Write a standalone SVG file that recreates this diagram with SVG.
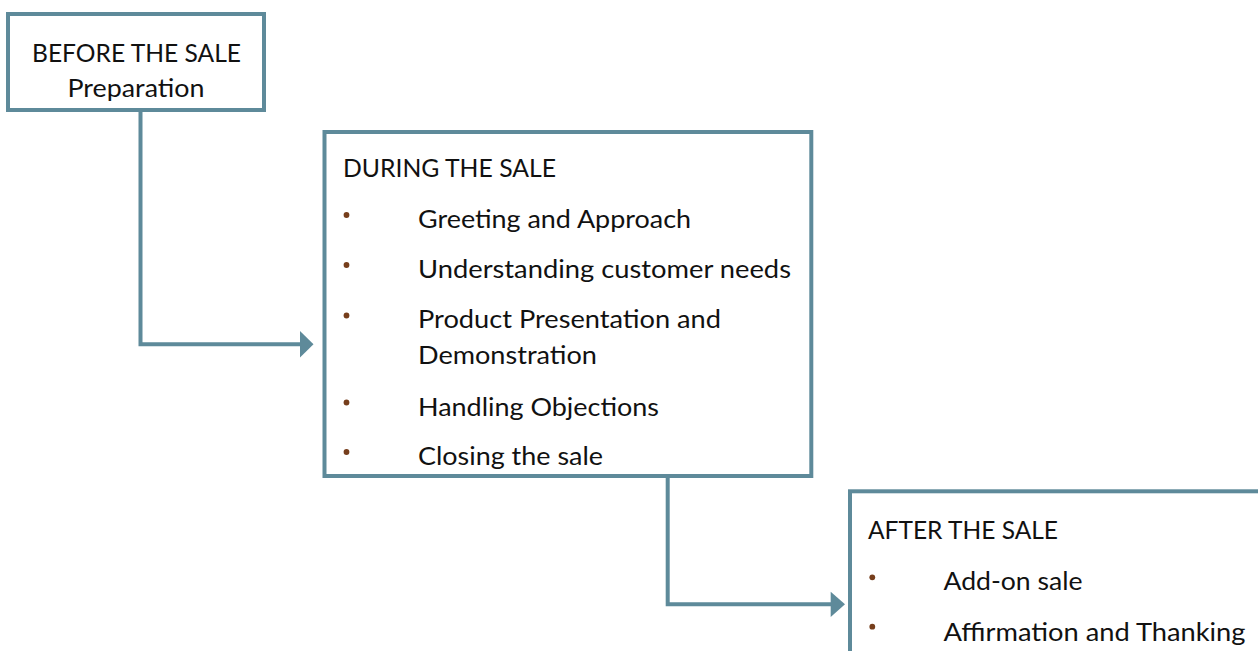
<svg xmlns="http://www.w3.org/2000/svg" width="1258" height="651" viewBox="0 0 1258 651">
<style>
.box{fill:#ffffff;stroke:#5E8A9A;stroke-width:4}
.conn{fill:none;stroke:#5E8A9A;stroke-width:4}
.head{fill:#5E8A9A;stroke:none}
text{font-family:Lato,"Liberation Sans",sans-serif;font-size:25.5px;fill:#111111}
.bullet{fill:#763E1C}
.c{text-anchor:middle}
</style>
<rect x="0" y="0" width="1258" height="651" fill="#ffffff"/>
<g id="connectors">
<path class="conn" d="M140.5 111.7 V344.2 H301"/>
<polygon class="head" points="300,331 313.5,344.2 300,357.4"/>
<path class="conn" d="M667.7 478 V604.3 H831.5"/>
<polygon class="head" points="830.7,591.7 845,604.3 830.7,617"/>
</g>
<g id="before">
<rect class="box" x="8" y="14" width="256" height="96"/>
<text class="c" x="136.5" y="62" textLength="209" lengthAdjust="spacingAndGlyphs">BEFORE THE SALE</text>
<text class="c" x="136" y="97" textLength="137" lengthAdjust="spacingAndGlyphs">Preparation</text>
</g>
<g id="during">
<rect class="box" x="324.5" y="132" width="486.8" height="344"/>
<text x="343" y="177" textLength="213" lengthAdjust="spacingAndGlyphs">DURING THE SALE</text>
<circle class="bullet" cx="346.5" cy="215" r="2.9"/>
<text x="418" y="228" textLength="273" lengthAdjust="spacingAndGlyphs">Greeting and Approach</text>
<circle class="bullet" cx="346.5" cy="265" r="2.9"/>
<text x="418" y="278.3" textLength="373" lengthAdjust="spacingAndGlyphs">Understanding customer needs</text>
<circle class="bullet" cx="346.5" cy="315.5" r="2.9"/>
<text x="418" y="328" textLength="303" lengthAdjust="spacingAndGlyphs">Product Presentation and</text>
<text x="418" y="364" textLength="179" lengthAdjust="spacingAndGlyphs">Demonstration</text>
<circle class="bullet" cx="346.5" cy="402.5" r="2.9"/>
<text x="418" y="415.5" textLength="241" lengthAdjust="spacingAndGlyphs">Handling Objections</text>
<circle class="bullet" cx="346.5" cy="452" r="2.9"/>
<text x="418" y="465" textLength="185" lengthAdjust="spacingAndGlyphs">Closing the sale</text>
</g>
<g id="after">
<rect class="box" x="850" y="491.3" width="430" height="220"/>
<text x="868" y="539" textLength="190" lengthAdjust="spacingAndGlyphs">AFTER THE SALE</text>
<circle class="bullet" cx="872.3" cy="577.3" r="2.9"/>
<text x="943.5" y="590" textLength="139" lengthAdjust="spacingAndGlyphs">Add-on sale</text>
<circle class="bullet" cx="872.3" cy="626.7" r="2.9"/>
<text x="943.5" y="640.5" textLength="302" lengthAdjust="spacingAndGlyphs">Affirmation and Thanking</text>
</g>
</svg>
